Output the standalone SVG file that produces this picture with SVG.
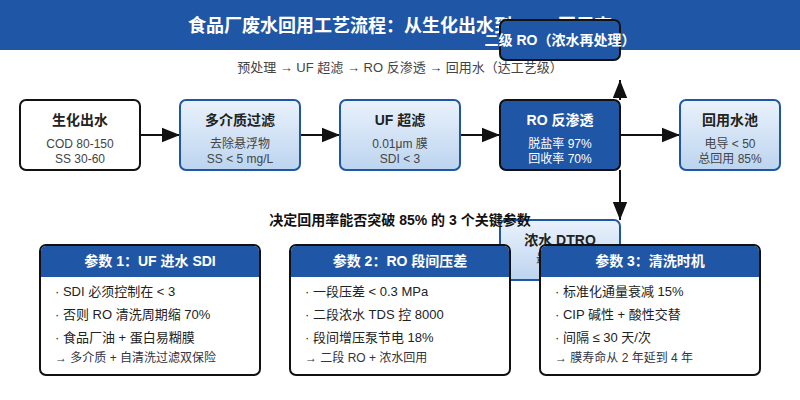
<svg xmlns="http://www.w3.org/2000/svg" width="800" height="400" viewBox="0 0 800 400">
<style>
text{font-family:"Liberation Sans","Noto Sans CJK SC",sans-serif}
.t{font-size:14px;font-weight:bold;fill:#222;text-anchor:middle}
.s{font-size:12px;fill:#444;text-anchor:middle}
.w{fill:#fff}
.lt{fill:url(#g);stroke:#1f57a6;stroke-width:2}
.b{font-size:13px;fill:#222}
.n{font-size:12px;fill:#334}
.ch{font-size:14px;font-weight:bold;fill:#fff;text-anchor:middle}
.c{stroke:#111;stroke-width:2;fill:none;marker-end:url(#a)}
</style>
<defs>
<linearGradient id="g" x1="0" y1="0" x2="0" y2="1"><stop offset="0" stop-color="#eaf2fc"/><stop offset="1" stop-color="#bcd4ef"/></linearGradient>
<marker id="a" viewBox="0 0 10 10" refX="10" refY="5" markerWidth="9" markerHeight="9" markerUnits="userSpaceOnUse" orient="auto"><path d="M0,0L10,5L0,10z" fill="#111"/></marker>
<marker id="a2" viewBox="0 0 10 10" refX="10" refY="5" markerWidth="18" markerHeight="18" markerUnits="userSpaceOnUse" orient="auto"><path d="M0,1L10,5L0,9z" fill="#111"/></marker>
</defs>
<rect x="0" y="0" width="800" height="50" fill="#1f57a6"/>
<text x="400" y="32" font-size="18" font-weight="bold" fill="#fff" text-anchor="middle">食品厂废水回用工艺流程：从生化出水到 85% 回用率</text>
<text x="400" y="72" font-size="13" fill="#444" text-anchor="middle">预处理 → UF 超滤 → RO 反渗透 → 回用水（达工艺级）</text>
<g id="connectors">
<path d="M140,135H180" stroke="#111" stroke-width="2" marker-end="url(#a2)"/>
<path d="M300,135H340" stroke="#111" stroke-width="2" marker-end="url(#a2)"/>
<path d="M460,135H500" stroke="#111" stroke-width="2" marker-end="url(#a2)"/>
<path d="M620,135H680" stroke="#111" stroke-width="2" marker-end="url(#a2)"/>
<path d="M620,100V80" stroke="#111" stroke-width="2" marker-end="url(#a2)"/>
<path d="M620,170V220" stroke="#111" stroke-width="2" marker-end="url(#a2)"/>
</g>
<g id="n1"><rect x="20" y="100" width="120" height="70" rx="6" fill="#fff" stroke="#111" stroke-width="2"/>
<text class="t" x="80" y="125">生化出水</text><text class="s" x="80" y="148">COD 80-150</text><text class="s" x="80" y="163">SS 30-60</text></g>
<g id="n2"><rect x="180" y="100" width="120" height="70" rx="6" class="lt"/>
<text class="t" x="240" y="125">多介质过滤</text><text class="s" x="240" y="148">去除悬浮物</text><text class="s" x="240" y="163">SS &lt; 5 mg/L</text></g>
<g id="n3"><rect x="340" y="100" width="120" height="70" rx="6" class="lt"/>
<text class="t" x="400" y="125">UF 超滤</text><text class="s" x="400" y="148">0.01μm 膜</text><text class="s" x="400" y="163">SDI &lt; 3</text></g>
<g id="n4"><rect x="500" y="100" width="120" height="70" rx="6" fill="#1f57a6" stroke="#111" stroke-width="2"/>
<text class="t w" x="560" y="125">RO 反渗透</text><text class="s w" x="560" y="148">脱盐率 97%</text><text class="s w" x="560" y="163">回收率 70%</text></g>
<g id="n5"><rect x="680" y="100" width="100" height="70" rx="6" class="lt"/>
<text class="t" x="730" y="125">回用水池</text><text class="s" x="730" y="148">电导 &lt; 50</text><text class="s" x="730" y="163">总回用 85%</text></g>
<g id="n6"><rect x="500" y="20" width="120" height="40" rx="6" fill="#1f57a6" stroke="#111" stroke-width="2"/>
<text class="t w" x="560" y="45" font-size="13">二级 RO（浓水再处理）</text></g>
<g id="n7"><rect x="500" y="220" width="120" height="60" rx="6" class="lt"/>
<text class="t" x="560" y="245">浓水 DTRO</text><text class="s" x="560" y="263">最终浓缩</text></g>
<text x="400" y="225" font-size="14" font-weight="bold" fill="#111" text-anchor="middle">决定回用率能否突破 85% 的 3 个关键参数</text>
<g id="p1"><rect x="40" y="245" width="220" height="130" rx="6" fill="#fff" stroke="#111" stroke-width="2"/>
<path d="M41,277V251a5,5 0 0 1 5,-5H254a5,5 0 0 1 5,5V277z" fill="#1f57a6"/>
<text class="ch" x="150" y="266">参数 1：UF 进水 SDI</text>
<text class="b" x="55" y="296">· SDI 必须控制在 &lt; 3</text><text class="b" x="55" y="319">· 否则 RO 清洗周期缩 70%</text><text class="b" x="55" y="342">· 食品厂油 + 蛋白易糊膜</text><text class="n" x="55" y="362">→ 多介质 + 自清洗过滤双保险</text></g>
<g id="p2"><rect x="290" y="245" width="220" height="130" rx="6" fill="#fff" stroke="#111" stroke-width="2"/>
<path d="M291,277V251a5,5 0 0 1 5,-5H504a5,5 0 0 1 5,5V277z" fill="#1f57a6"/>
<text class="ch" x="400" y="266">参数 2：RO 段间压差</text>
<text class="b" x="305" y="296">· 一段压差 &lt; 0.3 MPa</text><text class="b" x="305" y="319">· 二段浓水 TDS 控 8000</text><text class="b" x="305" y="342">· 段间增压泵节电 18%</text><text class="n" x="305" y="362">→ 二段 RO + 浓水回用</text></g>
<g id="p3"><rect x="540" y="245" width="220" height="130" rx="6" fill="#fff" stroke="#111" stroke-width="2"/>
<path d="M541,277V251a5,5 0 0 1 5,-5H754a5,5 0 0 1 5,5V277z" fill="#1f57a6"/>
<text class="ch" x="650" y="266">参数 3：清洗时机</text>
<text class="b" x="555" y="296">· 标准化通量衰减 15%</text><text class="b" x="555" y="319">· CIP 碱性 + 酸性交替</text><text class="b" x="555" y="342">· 间隔 ≤ 30 天/次</text><text class="n" x="555" y="362">→ 膜寿命从 2 年延到 4 年</text></g>
</svg>
